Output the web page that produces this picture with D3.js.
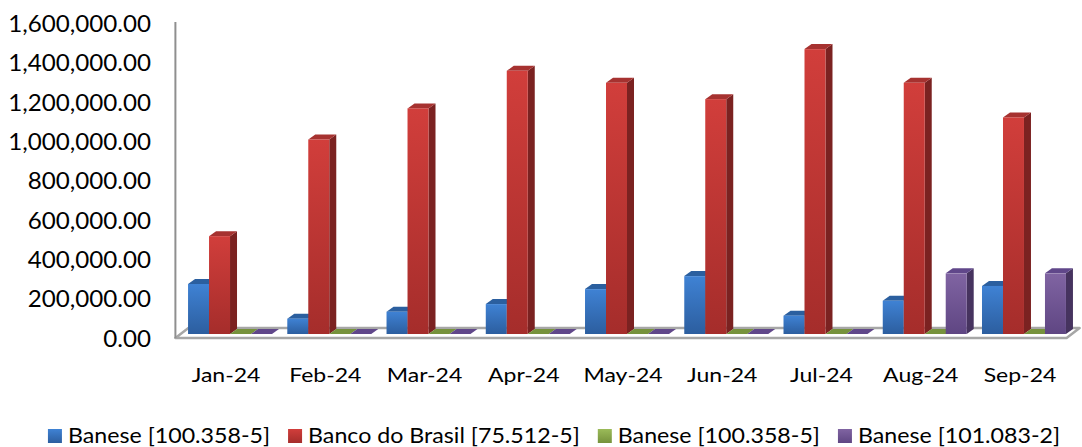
<!DOCTYPE html>
<html>
<head>
<meta charset="utf-8">
<script src="https://cdn.jsdelivr.net/npm/d3@7"></script>
<style>
  body { margin: 0; background: #fff; }
  svg { display: block; font-family: Lato, 'Open Sans', sans-serif; }
  .y-label { font-size: 23px; fill: #000; }
  .x-label { font-size: 20px; fill: #000; }
  .legend-text { font-size: 21px; fill: #000; }
</style>
</head>
<body>
<div id="chart"></div>
<script>
// Data
const months = ['Jan-24', 'Feb-24', 'Mar-24', 'Apr-24', 'May-24', 'Jun-24', 'Jul-24', 'Aug-24', 'Sep-24']
const seriesNames = ['Banese [100.358-5]', 'Banco do Brasil [75.512-5]', 'Banese [100.358-5]', 'Banese [101.083-2]']
const banese100358 = [254000, 78000, 113000, 152000, 228000, 294000, 93000, 169000, 244000]
const bancoDoBrasil = [497000, 988000, 1146000, 1337000, 1276000, 1193000, 1447000, 1276000, 1100000]
const banese100358b = [0, 0, 0, 0, 0, 0, 0, 0, 0]
const banese101083 = [0, 0, 0, 0, 0, 0, 0, 308000, 308000]
const yTicks = [0, 200000, 400000, 600000, 800000, 1000000, 1200000, 1400000, 1600000]

const seriesValues = [banese100358, bancoDoBrasil, banese100358b, banese101083]

// Colours per series: front gradient top/bottom, side, top
const palette = [
  { front: ['#3f82d4', '#2c5e9f'], side: '#234c80', top: '#2b5f9f' },
  { front: ['#d13e3b', '#a52d2b'], side: '#7b2221', top: '#a63230' },
  { front: ['#9bbb59', '#76923c'], side: '#5d7430', top: '#76923c' },
  { front: ['#8064a2', '#5f4683'], side: '#46335f', top: '#60478a' }
]

const width = 1082
const height = 447
const depthX = 7
const depthY = 5

const svg = d3.select('#chart')
  .append('svg')
  .attr('width', width)
  .attr('height', height)

// Gradients
const defs = svg.append('defs')
palette.forEach((p, i) => {
  const grad = defs.append('linearGradient')
    .attr('id', `front-${i}`)
    .attr('x1', 0).attr('y1', 0).attr('x2', 0).attr('y2', 1)
  grad.append('stop').attr('offset', '0%').attr('stop-color', p.front[0])
  grad.append('stop').attr('offset', '100%').attr('stop-color', p.front[1])
})

// Scales
const yScale = d3.scaleLinear().domain([0, 1600000]).range([339, 24])
const xScale = d3.scaleBand()
  .domain(months)
  .range([180.4, 1073.6])
  .paddingInner(0.154)
  .paddingOuter(0.077)
const xInner = d3.scaleBand()
  .domain(d3.range(seriesValues.length))
  .range([0, xScale.bandwidth()])

const baseY = yScale(0) - 5
const floorLeft = xScale.range()[0] - 5
const floorRight = xScale.range()[1] - 7

// Floor
const floorDepthX = 13
const floorDepthY = 10
const floorFront = baseY + 4
svg.append('polygon')
  .attr('points', [
    [floorLeft, floorFront],
    [floorRight, floorFront],
    [floorRight + floorDepthX, floorFront - floorDepthY],
    [floorLeft + floorDepthX, floorFront - floorDepthY]
  ].map(p => p.join(',')).join(' '))
  .attr('fill', '#fff')
  .attr('stroke', '#a6a6a6')
  .attr('stroke-width', 2.5)
  .attr('stroke-linejoin', 'round')

// Vertical axis line
svg.append('line')
  .attr('x1', floorLeft).attr('x2', floorLeft)
  .attr('y1', yScale(1600000) - 2).attr('y2', floorFront)
  .attr('stroke', '#8f8f8f')
  .attr('stroke-width', 2)

// Y axis labels
const yAxis = svg.append('g')
  .attr('transform', 'translate(151,0)')
  .call(d3.axisLeft(yScale).tickValues(yTicks).tickSize(0).tickPadding(0).tickFormat(d3.format(',.2f')))
yAxis.select('.domain').remove()
yAxis.attr('font-family', null).attr('font-size', null)
yAxis.selectAll('text')
  .attr('class', 'y-label')
  .attr('x', 0)
  .attr('transform', 'scale(1.05,1)')

// Bars
const groups = svg.append('g')
  .selectAll('g')
  .data(months)
  .join('g')
  .attr('transform', d => `translate(${xScale(d)},0)`)

groups.each(function (month, mi) {
  const g = d3.select(this)
  seriesValues.forEach((vals, si) => {
    const v = vals[mi]
    const x0 = xInner(si)
    const w = xInner.bandwidth()
    const yTop = baseY - (yScale(0) - yScale(v))
    const p = palette[si]
    // side face
    if (v > 0) {
      g.append('polygon')
        .attr('points', [
          [x0 + w, yTop], [x0 + w + depthX, yTop - depthY],
          [x0 + w + depthX, baseY - depthY], [x0 + w, baseY]
        ].map(q => q.join(',')).join(' '))
        .attr('fill', p.side)
    }
    // top face
    g.append('polygon')
      .attr('points', [
        [x0, yTop], [x0 + w, yTop],
        [x0 + w + depthX, yTop - depthY], [x0 + depthX, yTop - depthY]
      ].map(q => q.join(',')).join(' '))
      .attr('fill', p.top)
    // front face
    if (v > 0) {
      g.append('rect')
        .attr('x', x0)
        .attr('y', yTop)
        .attr('width', w)
        .attr('height', baseY - yTop)
        .attr('fill', `url(#front-${si})`)
    }
  })
})

// X labels
svg.append('g')
  .selectAll('g')
  .data(months)
  .join('g')
  .attr('transform', d => `translate(${xScale(d) + xScale.bandwidth() / 2 - 4},382) scale(1.15,1)`)
  .append('text')
  .attr('class', 'x-label')
  .attr('text-anchor', 'middle')
  .text(d => d)

// Legend
const legendScale = 1.105
const legend = svg.append('g')
const items = legend.selectAll('g')
  .data(seriesNames)
  .join('g')
items.append('rect')
  .attr('width', 14)
  .attr('height', 14)
  .attr('y', 429)
  .attr('fill', (d, i) => `url(#front-${i})`)
items.append('text')
  .attr('class', 'legend-text')
  .attr('transform', `translate(20,443) scale(${legendScale},1)`)
  .text(d => d)

let cursor = 0
const offsets = []
items.each(function () {
  const tw = d3.select(this).select('text').node().getComputedTextLength() * legendScale
  offsets.push(cursor)
  cursor += 20 + tw + 18
})
const legendStart = 554 - (cursor - 18) / 2
items.attr('transform', (d, i) => `translate(${legendStart + offsets[i]},0)`)
</script>
</body>
</html>
